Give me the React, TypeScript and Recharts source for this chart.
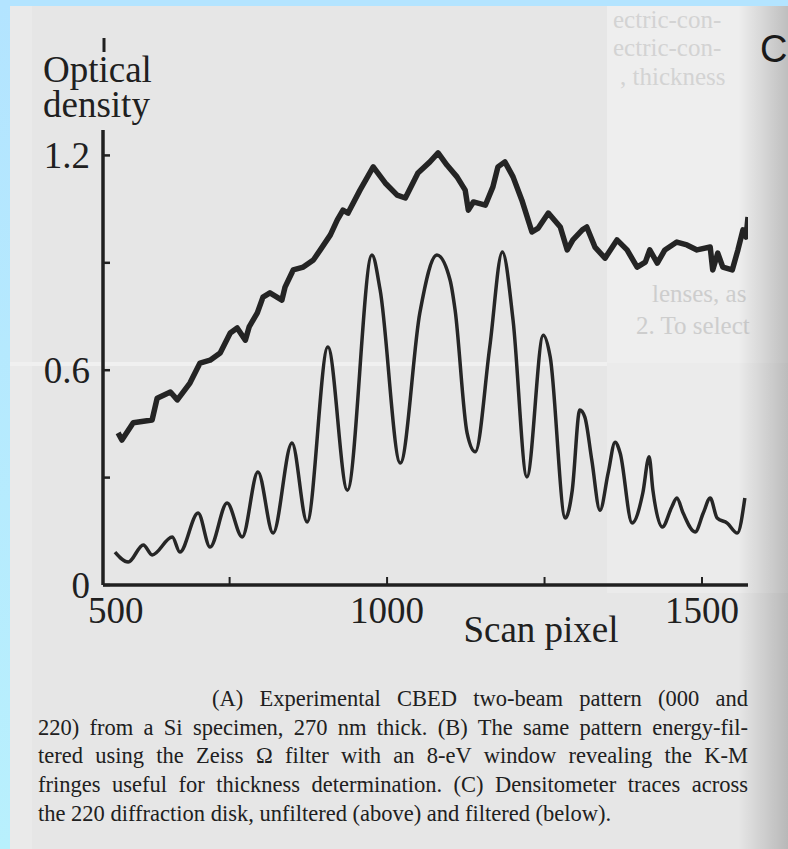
import React from "react";
import { LineChart, Line, XAxis, YAxis, Label } from "recharts";

// scan pixel positions (x) and optical density (y)
const unfilteredPx = [
  573, 579, 597, 627, 635, 656, 667, 687, 703, 719, 735, 751, 762, 775, 781, 794, 803, 814, 833, 838,
  851, 867, 883, 894, 910, 921, 930, 938, 957, 978, 997, 1016, 1029, 1049, 1068, 1081, 1095, 1111, 1124, 1129,
  1137, 1156, 1168, 1176, 1187, 1200, 1214, 1230, 1240, 1256, 1275, 1286, 1295, 1310, 1317, 1330, 1346, 1365, 1381, 1397,
  1410, 1417, 1429, 1441, 1460, 1476, 1492, 1513, 1517, 1525, 1533, 1548, 1557, 1565, 1570, 1573,
];
const unfilteredOD = [
  0.425, 0.405, 0.453, 0.461, 0.522, 0.539, 0.517, 0.564, 0.62, 0.628, 0.648, 0.704, 0.718, 0.684, 0.721, 0.76, 0.804, 0.816, 0.796, 0.832,
  0.88, 0.888, 0.908, 0.936, 0.978, 1.02, 1.047, 1.039, 1.103, 1.168, 1.123, 1.089, 1.081, 1.151, 1.182, 1.207, 1.173, 1.14, 1.103, 1.047,
  1.07, 1.061, 1.112, 1.168, 1.182, 1.14, 1.075, 0.986, 0.997, 1.039, 1.0, 0.936, 0.964, 0.992, 1.0, 0.944, 0.913, 0.964, 0.936, 0.888,
  0.902, 0.936, 0.899, 0.936, 0.958, 0.95, 0.936, 0.944, 0.88, 0.927, 0.888, 0.88, 0.936, 0.992, 0.972, 1.028,
];

const filteredPx = [
  568, 589, 613, 627, 659, 671, 700, 719, 746, 770, 795, 819, 849, 873, 906, 937, 976, 989, 1021, 1052,
  1079, 1100, 1108, 1127, 1140, 1163, 1183, 1200, 1222, 1248, 1259, 1283, 1294, 1306, 1314, 1325, 1338, 1351, 1362, 1370,
  1389, 1406, 1416, 1422, 1437, 1452, 1460, 1470, 1489, 1502, 1513, 1524, 1540, 1556, 1568,
];
const filteredOD = [
  0.092, 0.064, 0.112, 0.084, 0.134, 0.092, 0.201, 0.106, 0.229, 0.134, 0.316, 0.145, 0.397, 0.176, 0.665, 0.265, 0.922, 0.824, 0.341, 0.76,
  0.922, 0.852, 0.768, 0.425, 0.372, 0.665, 0.93, 0.74, 0.302, 0.698, 0.637, 0.187, 0.265, 0.489, 0.469, 0.349, 0.209, 0.313, 0.399, 0.369,
  0.173, 0.257, 0.358, 0.265, 0.162, 0.218, 0.243, 0.201, 0.148, 0.201, 0.243, 0.187, 0.173, 0.145, 0.243,
];

const xTicks = [549, 750, 1000, 1250, 1500];
const xTickLabels = ["500", "", "1000", "", "1500"];
const yTicks = [0, 0.3, 0.6, 0.9, 1.2];
const yTickLabels = ["0", "", "0.6", "", "1.2"];

const captionLines = [
  "(A) Experimental CBED two-beam pattern (000 and",
  "220) from a Si specimen, 270 nm thick. (B) The same pattern energy-fil-",
  "tered using the Zeiss \u03A9 filter with an 8-eV window revealing the K-M",
  "fringes useful for thickness determination. (C) Densitometer traces across",
  "the 220 diffraction disk, unfiltered (above) and filtered (below).",
];

const unfiltered = unfilteredPx.map((px, i) => ({ px, od: unfilteredOD[i] }));
const filtered = filteredPx.map((px, i) => ({ px, od: filteredOD[i] }));

const ink = "#202020";
const serif = "'Liberation Serif', 'Times New Roman', serif";

const YTick = (props: any) => {
  const { x, y, index } = props;
  return (
    <g>
      <line x1={x} y1={y} x2={x + 7} y2={y} stroke={ink} strokeWidth={2.5} />
      <text x={x - 13} y={y + 13} textAnchor="end" fontFamily={serif} fontSize={37} fill={ink}>
        {yTickLabels[index]}
      </text>
    </g>
  );
};

const XTick = (props: any) => {
  const { x, y, index } = props;
  const first = index === 0;
  return (
    <g>
      {!first && <line x1={x} y1={y} x2={x} y2={y - 8} stroke={ink} strokeWidth={2} />}
      <text
        x={first ? x - 15 : x}
        y={y + 38}
        textAnchor={first ? "start" : "middle"}
        fontFamily={serif}
        fontSize={37}
        fill={ink}
      >
        {xTickLabels[index]}
      </text>
    </g>
  );
};

const bleed = {
  position: "absolute" as const,
  fontFamily: serif,
  fontSize: 25,
  lineHeight: "25px",
  color: "#d3d3d3",
  whiteSpace: "nowrap" as const,
};

export default function App() {
  return (
    <div style={{ position: "absolute", left: 0, top: 0, width: 788, height: 849, overflow: "hidden", background: "#e6e6e6" }}>
      {/* scan artefacts: lighter patch, light streak, show-through text, page edge shade, blue frame */}
      <div style={{ position: "absolute", left: 10, top: 0, width: 22, height: 849, background: "#eaeaea" }} />
      <div style={{ position: "absolute", left: 607, top: 0, width: 181, height: 363, background: "#eeeeee" }} />
      <div style={{ position: "absolute", left: 607, top: 363, width: 181, height: 230, background: "#ebebeb" }} />
      <div style={{ position: "absolute", left: 10, top: 362, width: 597, height: 4, background: "#f0f0f0" }} />
      <div style={{ ...bleed, left: 613, top: 7 }}>ectric-con-</div>
      <div style={{ ...bleed, left: 613, top: 35 }}>ectric-con-</div>
      <div style={{ ...bleed, left: 620, top: 64 }}>, thickness</div>
      <div style={{ ...bleed, left: 652, top: 281, color: "#cdcdcd" }}>lenses, as</div>
      <div style={{ ...bleed, left: 636, top: 313, color: "#cdcdcd" }}>2. To select</div>
      <div
        style={{
          position: "absolute",
          left: 738,
          top: 0,
          width: 50,
          height: 849,
          background: "linear-gradient(to right, rgba(0,0,0,0), rgba(0,0,0,0.2))",
        }}
      />
      <div style={{ position: "absolute", left: 0, top: 0, width: 10, height: 849, background: "linear-gradient(to bottom, #b3e4ff, #b8f0fd)" }} />
      <div style={{ position: "absolute", left: 0, top: 0, width: 788, height: 6, background: "#b3e4ff" }} />
      <div style={{ position: "absolute", left: 760, top: 28, fontFamily: "'Liberation Sans', Arial, sans-serif", fontSize: 38, color: "#1a1a1a" }}>
        C
      </div>

      <div style={{ position: "absolute", left: 0, top: 0 }}>
        <LineChart width={788} height={660} margin={{ top: 130, right: 40, bottom: 25, left: 0 }}>
          <XAxis
            type="number"
            dataKey="px"
            domain={[549, 1573]}
            ticks={xTicks}
            interval={0}
            allowDataOverflow
            height={50}
            tickLine={false}
            tickSize={0}
            tickMargin={0}
            tick={(p: any) => <XTick {...p} />}
            axisLine={{ stroke: ink, strokeWidth: 3.5 }}
          >
            <Label
              content={() => (
                <text x={541} y={642} textAnchor="middle" fontFamily={serif} fontSize={37} fill={ink}>
                  Scan pixel
                </text>
              )}
            />
          </XAxis>
          <YAxis
            type="number"
            domain={[0, 1.271]}
            ticks={yTicks}
            interval={0}
            width={103}
            tickLine={false}
            tickSize={0}
            tickMargin={0}
            tick={(p: any) => <YTick {...p} />}
            axisLine={{ stroke: ink, strokeWidth: 3.5 }}
          >
            <Label
              content={() => (
                <g>
                  <line x1={104} y1={38} x2={104} y2={52} stroke={ink} strokeWidth={3} />
                  <text x={43} y={82} fontFamily={serif} fontSize={37} fill={ink}>
                    Optical
                  </text>
                  <text x={43} y={117} fontFamily={serif} fontSize={37} fill={ink}>
                    density
                  </text>
                </g>
              )}
            />
          </YAxis>
          <Line
            data={unfiltered}
            dataKey="od"
            type="linear"
            stroke="#242424"
            strokeWidth={5.5}
            strokeLinejoin="round"
            dot={false}
            activeDot={false}
            isAnimationActive={false}
          />
          <Line
            data={filtered}
            dataKey="od"
            type="monotone"
            stroke="#262626"
            strokeWidth={3.5}
            dot={false}
            activeDot={false}
            isAnimationActive={false}
          />
        </LineChart>
      </div>

      {captionLines.map((line, i) => {
        const last = i === captionLines.length - 1;
        const left = i === 0 ? 212 : 38;
        return (
          <div
            key={i}
            style={{
              position: "absolute",
              left,
              top: 685 + i * 28.7,
              width: last ? "auto" : 748 - left,
              fontFamily: serif,
              fontSize: 22.5,
              lineHeight: "28px",
              color: ink,
              whiteSpace: "nowrap",
              textAlign: last ? "left" : "justify",
              textAlignLast: last ? "left" : "justify",
            }}
          >
            {line}
          </div>
        );
      })}
    </div>
  );
}
